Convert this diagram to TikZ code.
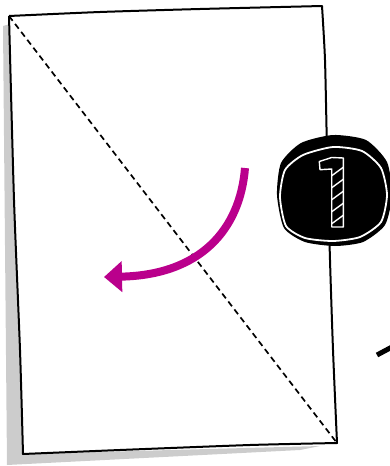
\documentclass[tikz,border=0pt]{standalone}
\usetikzlibrary{arrows.meta}
\definecolor{foldpink}{RGB}{186,0,140}
\definecolor{shadowgray}{RGB}{204,204,204}
\tikzset{
  paperedge/.style={draw=black, line width=2pt, fill=white, line join=round},
  foldline/.style={draw=black, line width=1.7pt, dash pattern=on 6pt off 4pt},
  foldarrow/.style={draw=foldpink, line width=8pt, -{Triangle[length=18pt,width=30pt]}},
  badge/.style={fill=black},
  badgering/.style={draw=white, line width=1.8pt},
  digitline/.style={draw=white, line width=1.4pt, line join=round}
}
\begin{document}
\begin{tikzpicture}[x=1pt,y=-1pt]
\useasboundingbox (0,0) rectangle (389,466);
% shadow
\fill[shadowgray] (3,26) -- (10,24) -- (23,454) -- (320,446) -- (300,450) -- (7,465) -- cycle;
% paper
\coordinate (tl) at (9,16);
\coordinate (tr) at (322,6);
\coordinate (br) at (337,443);
\coordinate (bl) at (23,454);
\path[paperedge] plot[smooth, tension=0.4] coordinates {(9,16) (100,12) (200,9) (322,6)}
  -- plot[smooth, tension=0.4] coordinates {(322,6) (325,60) (327,150) (330,260) (333,350) (337,443)}
  -- plot[smooth, tension=0.4] coordinates {(337,443) (250,445) (120,450) (23,454)}
  -- plot[smooth, tension=0.4] coordinates {(23,454) (20,350) (14,200) (9,16)};
% diagonal fold
\draw[foldline] (tl) -- (br);
% arrow
\coordinate (astart) at (245,168);
\coordinate (aend) at (104,277);
\draw[foldarrow] (astart) .. controls (240,230) and (200,275) .. (aend);
% badge
\fill[badge] plot[smooth cycle, tension=0.4] coordinates {(333,135) (366,140) (387,162) (392,195) (385,225) (363,242) (335,246) (305,242) (284,228) (277,195) (281,163) (301,143)};
\draw[badgering] plot[smooth cycle, tension=0.4] coordinates {(333,147) (362,151) (381,168) (387,195) (381,222) (360,237) (333,241) (305,238) (286,226) (280,197) (285,170) (303,155)};
% digit 1
\begin{scope}
  \clip (331.7,157.5) -- (343.3,158) -- (343.3,227) -- (331.7,227) -- (331.7,169) -- (320,169.7) -- (319.3,161.5) -- cycle;
  \foreach \yy in {170,182,194,206,218,230} {
    \draw[digitline] (330,\yy+7) -- (345,\yy-4);
  }
\end{scope}
\draw[digitline] (331.7,157.5) -- (343.3,158) -- (343.3,227) -- (331.7,227) -- (331.7,169) -- (320,169.7) -- (319.3,161.5) -- cycle;
% small dash at right
\draw[line width=5pt] (377,355) -- (392,347);
\end{tikzpicture}
\end{document}
